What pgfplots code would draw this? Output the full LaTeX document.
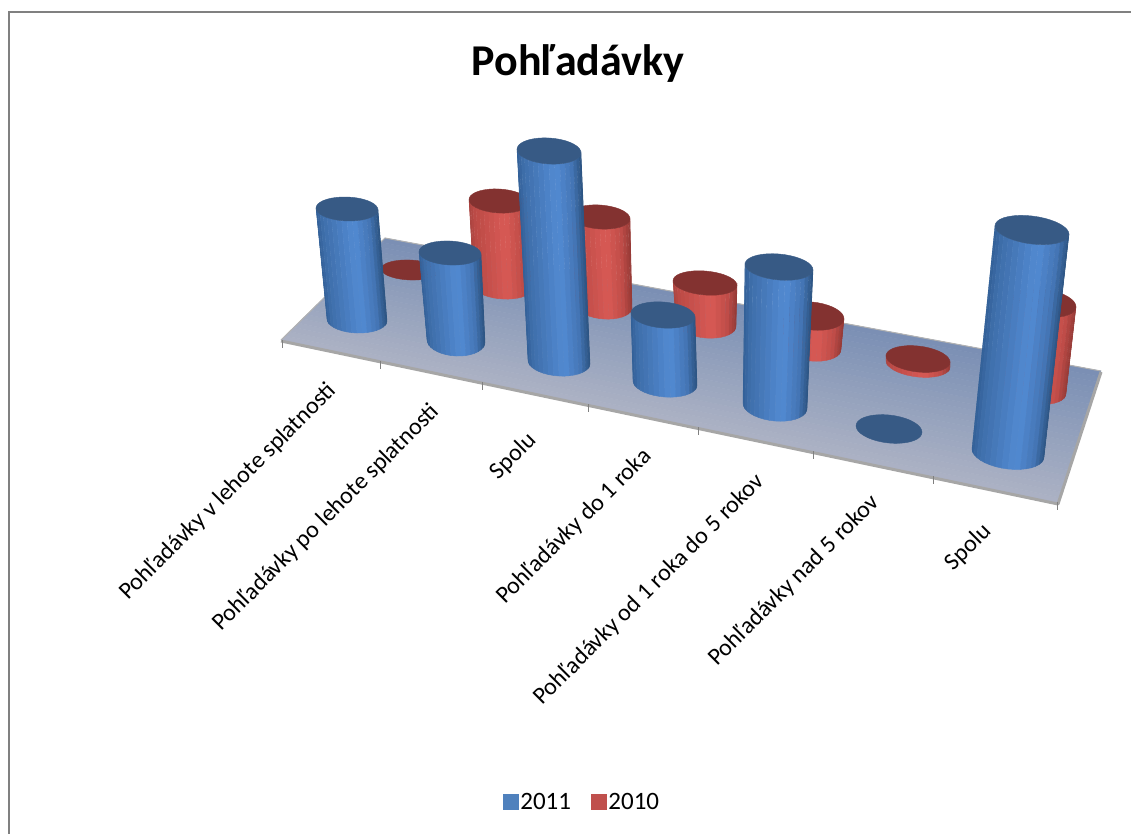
\documentclass[border=0pt]{standalone}
\usepackage{fontspec}
\setmainfont{Carlito}
\usepackage{pgfplots}
\pgfplotsset{compat=1.18}
\definecolor{topblue}{RGB}{55,90,133}
\definecolor{topred}{RGB}{131,50,48}
\definecolor{legblue}{RGB}{79,129,189}
\definecolor{legred}{RGB}{192,80,77}
\pgfplotsset{
 colormap={cylblue}{rgb255(0cm)=(50,95,150) rgb255(1cm)=(62,110,170) rgb255(6cm)=(82,138,210) rgb255(8.5cm)=(68,118,182) rgb255(10cm)=(44,84,130)},
 colormap={cylred}{rgb255(0cm)=(170,68,64) rgb255(1cm)=(188,74,70) rgb255(6cm)=(216,90,85) rgb255(8.5cm)=(192,76,72) rgb255(10cm)=(150,58,54)},
 colormap={floor}{rgb255(0cm)=(172,178,196) rgb255(1cm)=(122,143,180)},
}
% #1 centre x, #2 centre y, #3 rx, #4 ry, #5 angle, appends to \acc
\newcommand\addpt[5]{%
  \pgfmathsetmacro\sl{0.03+(#1-347)*0.00012}%
  \pgfmathsetmacro\px{#1+#3*cos(#5)}%
  \pgfmathsetmacro\py{#2+#4*sin(#5)+\sl*#3*cos(#5)}%
  \pgfmathsetmacro\um{(1+cos(#5))/2}%
  \xdef\acc{\acc (\px,\py) [\um]}%
}
% cylinder: colour, top cx cy rx ry, bottom cx cy rx ry
\newcommand\cyl[9]{%
  \gdef\acc{}%
  \pgfplotsforeachungrouped \tt in {180,170,...,0}{\addpt{#2}{#3}{#4}{#5}{\tt}}%
  \pgfplotsforeachungrouped \tt in {180,170,...,0}{\addpt{#6}{#7}{#8}{#9}{\tt}}%
  \edef\tmp{\noexpand\addplot[forget plot,surf,shader=flat,mesh/rows=2,mesh/ordering=x varies,point meta=explicit,colormap name=cyl#1] coordinates {\acc};}\tmp
  \disc{#1}{#2}{#3}{#4}{#5}%
}
\newcommand\disc[5]{%
  \gdef\acc{}%
  \pgfplotsforeachungrouped \tt in {0,10,...,350}{\addptp{#2}{#3}{#4}{#5}{\tt}}%
  \edef\tmp{\noexpand\addplot[forget plot,fill=top#1,draw=top#1,line width=0.4pt] coordinates {\acc} -- cycle;}\tmp
}
\newcommand\addptp[5]{%
  \pgfmathsetmacro\sl{0.03+(#1-347)*0.00012}%
  \pgfmathsetmacro\px{#1+#3*cos(#5)}%
  \pgfmathsetmacro\py{#2+#4*sin(#5)+\sl*#3*cos(#5)}%
  \xdef\acc{\acc (\px,\py)}%
}
\begin{document}
\begin{tikzpicture}[x=1pt,y=1pt]
\useasboundingbox (0,0) rectangle (1131,834);
\begin{axis}[
  at={(0,0)},anchor=south west,
  scale only axis,width=1131pt,height=834pt,
  xmin=0,xmax=1131,ymin=0,ymax=834,y dir=reverse,
  hide axis,clip=false,
  point meta min=0,point meta max=1,
  legend style={draw=none,fill=none,at={(axis cs:582,802)},anchor=center,legend columns=2,
    font=\fontsize{25}{30}\selectfont,inner sep=0pt,
    /tikz/every even column/.append style={column sep=18pt}},
  legend cell align=left,
]
% chart frame
\addplot[forget plot,color=black!50,line width=1.6pt] coordinates {(9,834)(9,12)(1131,12)};
% floor
\gdef\acc{}
\pgfplotsforeachungrouped \i in {0,1,...,24}{%
  \pgfmathsetmacro\f{\i/24}%
  \pgfmathsetmacro\xa{281+\f*(385-281)}\pgfmathsetmacro\ya{340+\f*(238-340)}%
  \pgfmathsetmacro\xb{1058+\f*(1101-1058)}\pgfmathsetmacro\yb{503+\f*(371-503)}%
  \xdef\acc{\acc (\xa,\ya) [\f] (\xb,\yb) [\f]}%
}
\edef\tmp{\noexpand\addplot[forget plot,surf,shader=flat,mesh/rows=25,mesh/ordering=x varies,point meta=explicit,colormap name=floor] coordinates {\acc};}\tmp
\addplot[forget plot,color=black!35,line width=3pt,line join=bevel] coordinates {(281,341)(1058,504)(1101,372)};
\addplot[forget plot,color=black!30,line width=1pt] coordinates {(281,340)(385,238)(1101,371)};
% tick marks under the front edge
\addplot[forget plot,color=black!50,line width=1pt,unbounded coords=jump] coordinates {
 (282,340)(282,348) (281,nan)
 (380,361)(380,369) (381,nan)
 (482,382)(482,390) (483,nan)
 (588,404)(588,412) (589,nan)
 (698,427)(698,435) (699,nan)
 (813,451)(813,459) (814,nan)
 (933,476)(933,484) (934,nan)
 (1057,502)(1057,510)};
% 2010 series
\disc{red}{410}{270}{29}{10}
\cyl{red}{499}{201}{30}{12}{503}{287}{29}{12}
\cyl{red}{600}{217}{30}{12}{604}{306}{28}{13}
\cyl{red}{705}{283}{32}{12}{706}{324}{30}{14}
\cyl{red}{812}{316}{32}{14}{811}{347}{30}{14}
\cyl{red}{918}{359}{32}{13}{918}{364}{32}{13}
\cyl{red}{1043}{303}{33}{14}{1034}{390}{32}{14}
% 2011 series
\cyl{blue}{347}{209}{31}{12}{357}{320}{30}{13}
\cyl{blue}{450}{253}{31}{12}{456}{341}{29}{15}
\cyl{blue}{549}{151}{32}{13}{559}{362}{31}{14}
\cyl{blue}{663}{315}{32}{13}{665}{383}{32}{14}
\cyl{blue}{779}{267}{34}{13}{775}{406}{32}{15}
\disc{blue}{889}{429}{33}{14}
\cyl{blue}{1032}{230}{37}{14}{1008}{453}{36}{16}
% legend
\addlegendimage{legend image code/.code={\fill[legblue] (0pt,-7.5pt) rectangle (15pt,7.5pt);}}
\addlegendentry{2011}
\addlegendimage{legend image code/.code={\fill[legred] (0pt,-7.5pt) rectangle (15pt,7.5pt);}}
\addlegendentry{2010}
% texts
\node[font=\fontsize{44}{50}\selectfont\bfseries] at (axis cs:578,64) {Pohľadávky};
\tikzset{lab/.style={rotate=45,anchor=east,font=\fontsize{24}{28}\selectfont,inner sep=0pt}}
\node[lab] at (axis cs:333,387) {Pohľadávky v lehote splatnosti};
\node[lab] at (axis cs:436,408) {Pohľadávky po lehote splatnosti};
\node[lab] at (axis cs:533,437) {Spolu};
\node[lab] at (axis cs:648,453) {Pohľadávky do 1 roka};
\node[lab] at (axis cs:761,478) {Pohľadávky od 1 roka do 5 rokov};
\node[lab] at (axis cs:876,499) {Pohľadávky nad 5 rokov};
\node[lab] at (axis cs:988,528) {Spolu};
\end{axis}
\end{tikzpicture}
\end{document}
